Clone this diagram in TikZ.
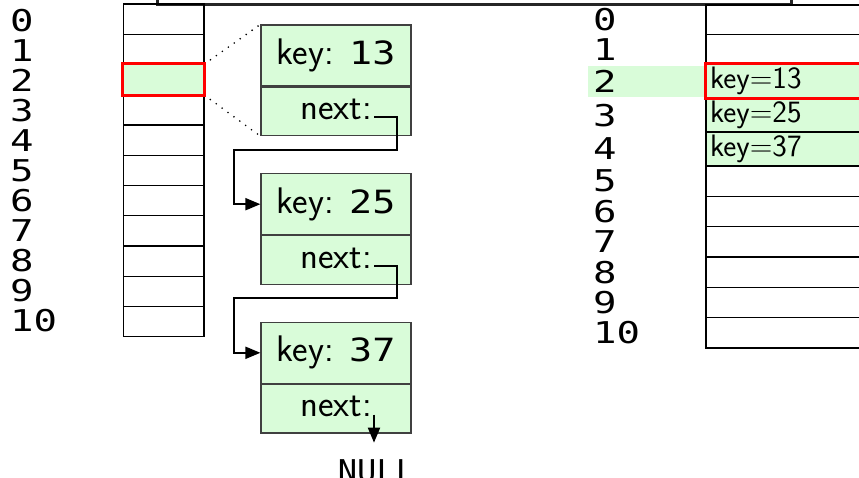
\documentclass[tikz,border=0pt]{standalone}
\usepackage{fontspec}
\setmonofont{DejaVu Sans Mono}[FakeStretch=1.07]
\newfontfamily\digitfont{DejaVu Sans Mono}[FakeStretch=1.3]
\newfontfamily\keydigits{DejaVu Sans Mono}[FakeStretch=1.2]
\usetikzlibrary{arrows.meta}

\definecolor{lightgreen}{RGB}{217,252,217}
\newcommand{\keytext}[1]{key: {\fontsize{32}{32}\selectfont\keydigits #1}}

\tikzset{
  idx/.style={font=\fontsize{30}{30}\selectfont\digitfont, inner sep=0pt},
  slot/.style={draw, line width=1.3pt, minimum width=80.7pt, minimum height=30.25pt, inner sep=0pt},
  rslot/.style={draw, line width=1.3pt, text width=246pt, inner xsep=4pt, inner ysep=1pt,
    align=left, font=\fontsize{31}{32}\selectfont\sffamily},
  keypart/.style={draw=black!75, fill=lightgreen, line width=1.2pt, minimum width=150pt,
    minimum height=61pt, inner sep=0pt, font=\fontsize{37}{40}\selectfont\sffamily},
  nextpart/.style={keypart, minimum height=48.4pt},
  hit/.style={draw=red, line width=3pt},
  ptr/.style={line width=2pt, -{Triangle[length=15pt,width=12pt]}},
  zoomline/.style={line width=1.8pt, line cap=round, dash pattern=on 0pt off 7.3pt}
}

\begin{document}
\begin{tikzpicture}[x=1pt,y=-1pt]
\clip (0,0) rectangle (859,478);

% box above, only its lower part is on the page
\node[draw=black!85, line width=3pt, minimum width=634pt, minimum height=60pt] (head) at (474,-25.5) {};

% hash table with chaining
\foreach \i in {0,...,10} {
  \node[idx, anchor=west] (la\i) at (10,20.8+30*\i) {\i};
  \node[slot] (sa\i) at (163.7,19.1+30.25*\i) {};
}

\foreach \n/\k/\y in {1/13/55.5, 2/25/204.2, 3/37/352.8} {
  \node[keypart] (k\n) at (336,\y) {\keytext{\k}};
  \node[nextpart, anchor=north] (n\n) at (k\n.south) {};
  \node[anchor=base, inner sep=2pt, font=\fontsize{37}{40}\selectfont\sffamily] (t\n) at ([yshift=-8pt]n\n.center) {next:};
}

\draw[zoomline, shorten <=7pt] (sa2.north east) -- (k1.north west);
\draw[zoomline, shorten <=7pt] (sa2.south east) -- (n1.south west);
\draw[hit, fill=lightgreen] (sa2.north west) rectangle (sa2.south east);

\foreach \a/\b in {1/2, 2/3}
  \draw[ptr] (t\a.mid east) -| ([xshift=-14.3pt,yshift=-13.4pt]n\a.south east)
    -| ([xshift=-26.7pt]k\b.west) -- (k\b.west);

\node[font=\fontsize{30}{30}\selectfont\ttfamily, inner sep=0pt] (null) at (376.5,471) {NULL};
\draw[ptr, shorten >=17pt] (t3.mid east) -- (t3.mid east |- null.north);

% open addressing
\node[fill=lightgreen, minimum width=118pt, minimum height=31pt, inner sep=0pt] (band) at (647,81.5) {};
\foreach \i/\y/\h/\c/\t in {0/19.8/29.6/white/{}, 1/49.5/29.6/white/{},
    2/81.25/33.9/lightgreen/{key=13}, 3/115.15/33.9/lightgreen/{key=25},
    4/149.05/33.9/lightgreen/{key=37}, 5/181.17/30.33/white/{},
    6/211.5/30.33/white/{}, 7/241.83/30.33/white/{}, 8/272.17/30.33/white/{},
    9/302.5/30.33/white/{}, 10/332.83/30.33/white/{}} {
  \node[idx, anchor=west] (lb\i) at (593,\y) {\i};
  \node[rslot, fill=\c, minimum height=\h pt] (sb\i) at (833,\y) {\t};
}
\draw[hit] (sb2.north west) rectangle ([xshift=20pt]sb2.south east);
\end{tikzpicture}
\end{document}
